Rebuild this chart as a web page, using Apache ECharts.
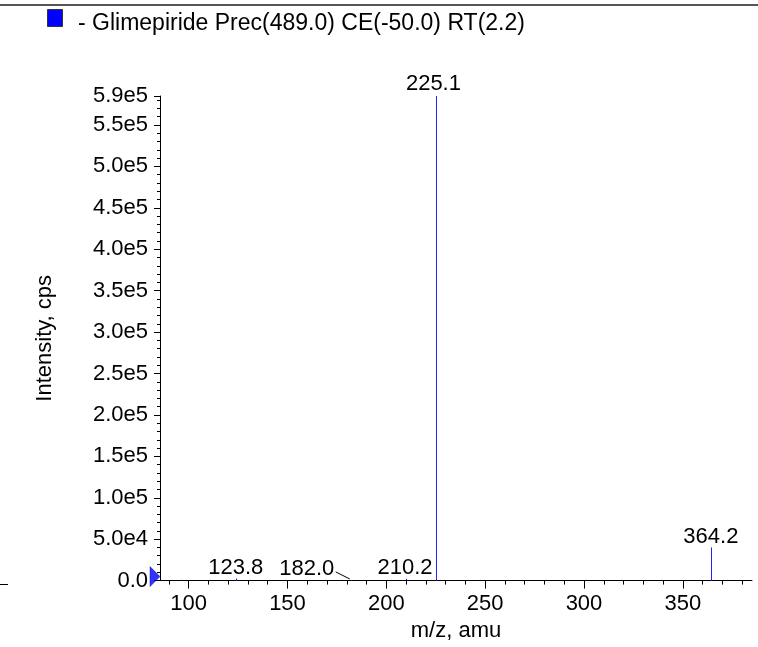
<!DOCTYPE html>
<html>
<head>
<meta charset="utf-8">
<script src="https://cdn.jsdelivr.net/npm/echarts@6/dist/echarts.min.js"></script>
<style>
html,body{margin:0;padding:0;background:#fff;}
#chart{width:758px;height:647px;}
</style>
</head>
<body>
<div id="chart"></div>
<script>
// ---- data ----
const mzValues = [96.2, 123.8, 182.0, 210.2, 225.1, 364.2];
const intensities = [900, 2500, 800, 2200, 585000, 40000];
const peakLabels = ['', '123.8', '182.0', '210.2', '225.1', '364.2'];
const xTickLabels = [100, 150, 200, 250, 300, 350];
const xMinorTicks = [90, 100, 110, 120, 130, 140, 150, 160, 170, 180, 190, 200, 210, 220, 230, 240, 250, 260, 270, 280, 290, 300, 310, 320, 330, 340, 350, 360, 370, 380];
const yTickLabels = [0, 50000, 100000, 150000, 200000, 250000, 300000, 350000, 400000, 450000, 500000, 550000, 585000];
const yMinorTicks = [10000, 20000, 30000, 40000, 60000, 70000, 80000, 90000, 110000, 120000, 130000, 140000, 160000, 170000, 180000, 190000, 210000, 220000, 230000, 240000, 260000, 270000, 280000, 290000, 310000, 320000, 330000, 340000, 360000, 370000, 380000, 390000, 410000, 420000, 430000, 440000, 460000, 470000, 480000, 490000, 510000, 520000, 530000, 540000, 560000, 570000, 580000];
const legendText = '- Glimepiride Prec(489.0) CE(-50.0) RT(2.2)';
const xMin = 85.5, xMax = 385, yMin = 0, yMax = 585000;

// ---- style (not data) ----
const FONT = '"Liberation Sans", Arial, Helvetica, sans-serif';
const FS = 22;
const labelShiftX = [0, 0, -44, -1.5, -2.5, 0];
const labelShiftY = [0, 0, 0, 0, -1.5, 0];
const peakColor = '#2222ff';

function fmtY(v) {
  if (v === 0) return '0.0';
  return v.toExponential(1).replace('e+', 'e');
}

const chart = echarts.init(document.getElementById('chart'), null, {renderer: 'canvas'});

const peakData = mzValues.map((m, i) => [m, intensities[i], i]);

const option = {
  animation: false,
  backgroundColor: '#fff',
  textStyle: {fontFamily: FONT},
  grid: {left: 160, right: 6, top: 96, bottom: 63, containLabel: false},
  xAxis: [
    {
      type: 'value', min: xMin, max: xMax, position: 'bottom',
      name: 'm/z, amu', nameLocation: 'middle', nameGap: 39,
      nameTextStyle: {fontSize: FS, color: '#000', fontFamily: FONT},
      axisLine: {show: true, onZero: false, lineStyle: {color: '#000', width: 1}},
      axisTick: {show: true, inside: false, length: 8, customValues: xTickLabels, lineStyle: {color: '#000'}},
      axisLabel: {show: true, customValues: xTickLabels, fontSize: FS, color: '#000', margin: 12.5, fontFamily: FONT},
      splitLine: {show: false}
    },
    {
      type: 'value', min: xMin, max: xMax, position: 'bottom',
      axisLine: {show: false},
      axisTick: {show: true, inside: false, length: 4, customValues: xMinorTicks, lineStyle: {color: '#000'}},
      axisLabel: {show: false},
      splitLine: {show: false}
    }
  ],
  yAxis: [
    {
      type: 'value', min: yMin, max: yMax, position: 'left',
      name: 'Intensity, cps', nameLocation: 'middle', nameGap: 104,
      nameTextStyle: {fontSize: FS, color: '#000', fontFamily: FONT},
      axisLine: {show: true, onZero: false, lineStyle: {color: '#000', width: 1}},
      axisTick: {show: true, inside: false, length: 6, customValues: yTickLabels, lineStyle: {color: '#000'}},
      axisLabel: {show: true, customValues: yTickLabels, fontSize: FS, color: '#000', margin: 12, padding: [5, 0, 0, 0], formatter: fmtY, fontFamily: FONT},
      splitLine: {show: false}
    },
    {
      type: 'value', min: yMin, max: yMax, position: 'left',
      axisLine: {show: false},
      axisTick: {show: true, inside: false, length: 3, customValues: yMinorTicks, lineStyle: {color: '#000'}},
      axisLabel: {show: false},
      splitLine: {show: false}
    }
  ],
  series: [
    {
      type: 'custom',
      xAxisIndex: 0, yAxisIndex: 0,
      clip: false,
      data: peakData,
      encode: {x: 0, y: 1},
      renderItem: function (params, api) {
        const x = api.value(0), y = api.value(1), idx = api.value(2);
        const p0 = api.coord([x, 0]);
        const p1 = api.coord([x, y]);
        const children = [{
          type: 'line',
          shape: {x1: Math.round(p0[0]) + 0.5, y1: p0[1], x2: Math.round(p0[0]) + 0.5, y2: p1[1]},
          style: {stroke: peakColor, lineWidth: 1}
        }];
        const txt = peakLabels[idx];
        if (txt) {
          const tx = p1[0] + labelShiftX[idx];
          const ty = p1[1] + 0.5 + labelShiftY[idx];
          children.push({
            type: 'text',
            style: {text: txt, x: tx, y: ty, align: 'center', verticalAlign: 'bottom', fill: '#000', font: FS + 'px ' + FONT}
          });
          if (Math.abs(labelShiftX[idx]) > 10) {
            children.push({
              type: 'line',
              shape: {x1: tx + 29, y1: p1[1] - 8, x2: p1[0] - 1, y2: p1[1] - 1},
              style: {stroke: '#000', lineWidth: 1}
            });
          }
        }
        return {type: 'group', children: children};
      }
    },
    {
      type: 'scatter',
      xAxisIndex: 0, yAxisIndex: 0,
      clip: false,
      silent: true,
      data: [[xMin, 0]],
      symbol: 'triangle',
      symbolSize: [20, 10],
      symbolRotate: -90,
      symbolOffset: [-5, -4],
      itemStyle: {color: '#0000ff', borderColor: '#000080', borderWidth: 0.5},
      z: 5
    }
  ],
  graphic: [
    {type: 'line', shape: {x1: 0, y1: 5, x2: 758, y2: 5}, style: {stroke: '#555', lineWidth: 2}},
    {type: 'rect', shape: {x: 47.5, y: 9.5, width: 15, height: 17}, style: {fill: '#0000ff', stroke: '#333', lineWidth: 1}},
    {type: 'text', style: {text: legendText, x: 78, y: 23.5, verticalAlign: 'middle', fill: '#000', font: '23px ' + FONT}},
    {type: 'line', shape: {x1: 0, y1: 584.5, x2: 8, y2: 584.5}, style: {stroke: '#000', lineWidth: 1}}
  ]
};

chart.setOption(option);
</script>
</body>
</html>
